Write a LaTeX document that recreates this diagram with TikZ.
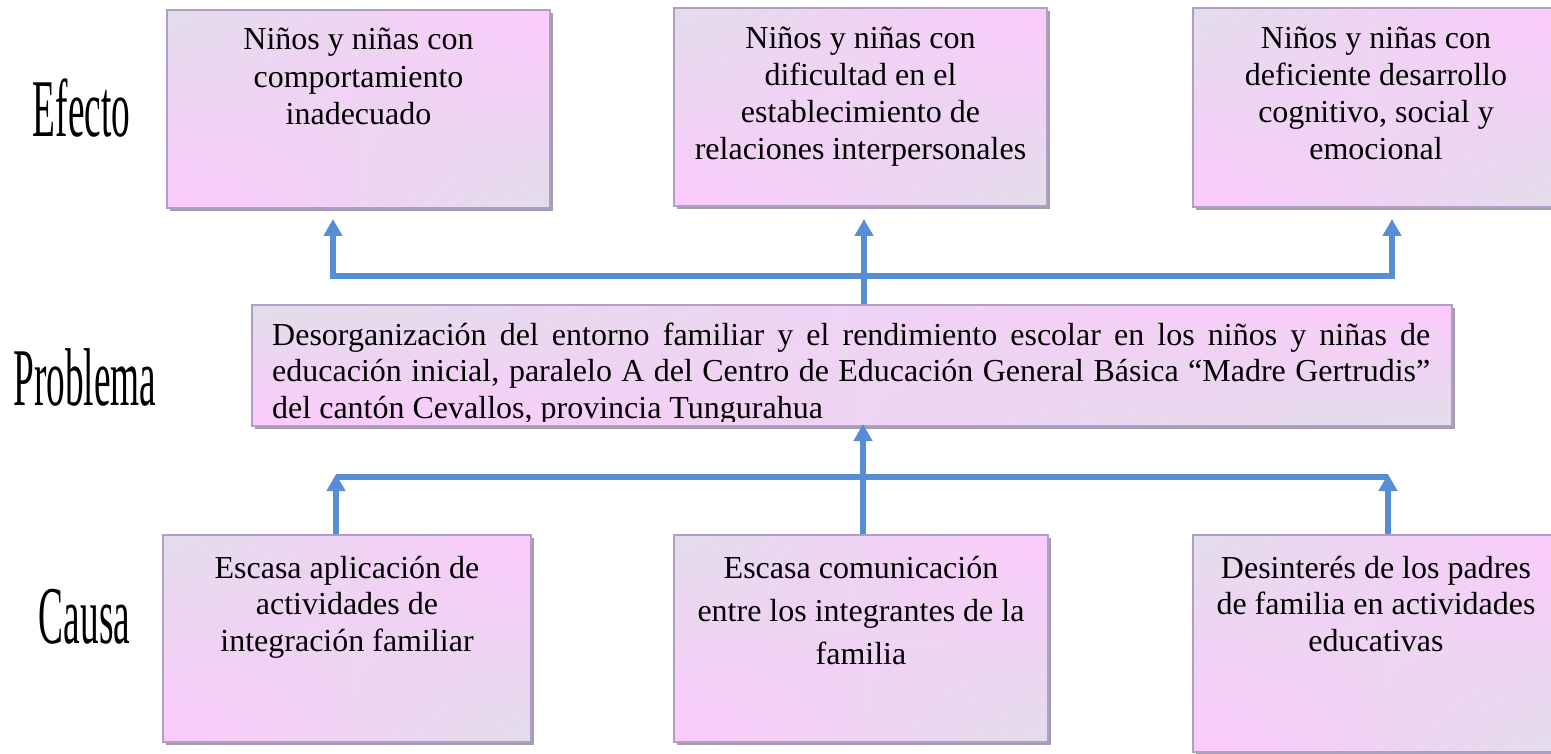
\documentclass[tikz,border=0pt]{standalone}
\usepackage{fontspec}
\setmainfont{Liberation Serif}
\usetikzlibrary{arrows.meta,shadows,shadings}
\definecolor{boxgray}{HTML}{E2DDEA}
\definecolor{boxpink}{HTML}{FCCAFC}
\definecolor{boxborder}{HTML}{AF9EC5}
\definecolor{boxshadow}{HTML}{A49DAF}
\definecolor{arrowblue}{HTML}{558ED5}
\begin{document}
\begin{tikzpicture}[x=1pt,y=-1pt,
  box/.style={draw=boxborder, line width=2pt, shade,
    upper left=boxgray, upper right=boxpink, lower left=boxpink, lower right=boxgray,
    general shadow={fill=boxshadow, shadow xshift=3pt, shadow yshift=-3pt},
    inner sep=0pt},
  txt/.style={anchor=base, inner sep=0pt},
  lbl/.style={anchor=base, inner sep=0pt, font=\fontsize{82}{90}\selectfont},
  conn/.style={draw=arrowblue, line width=5.5pt},
  btip/.tip={Triangle[length=17pt,width=18pt]}
]
\useasboundingbox (0,0) rectangle (1551,754);

% boxes
\node[box, minimum width=383pt, minimum height=198pt] (e1) at (358.5,109) {};
\node[box, minimum width=373pt, minimum height=198pt] (e2) at (860.5,107) {};
\node[box, minimum width=366pt, minimum height=199pt] (e3) at (1376,107.5) {};
\node[box, minimum width=1200pt, minimum height=121pt] (p) at (852,365.5) {};
\node[box, minimum width=368pt, minimum height=207pt] (c1) at (347,638.5) {};
\node[box, minimum width=374pt, minimum height=207pt] (c2) at (861,638.5) {};
\node[box, minimum width=366pt, minimum height=217pt] (c3) at (1376,643.5) {};

% box texts
\node[txt] (e1t) at (358.5,50) {\parbox[t]{380pt}{\centering\fontsize{32}{37.5}\selectfont Niños y niñas con\\comportamiento\\inadecuado\par}};
\node[txt] (e2t) at (860.5,49) {\parbox[t]{370pt}{\centering\fontsize{32}{37}\selectfont Niños y niñas con\\dificultad en el\\establecimiento de\\relaciones interpersonales\par}};
\node[txt] (e3t) at (1376,49) {\parbox[t]{360pt}{\centering\fontsize{32}{37}\selectfont Niños y niñas con\\deficiente desarrollo\\cognitivo, social y\\emocional\par}};
\node[txt] (c1t) at (347,578) {\parbox[t]{360pt}{\centering\fontsize{32}{36.5}\selectfont Escasa aplicación de\\actividades de\\integración familiar\par}};
\node[txt] (c2t) at (861,578) {\parbox[t]{370pt}{\centering\fontsize{32}{43}\selectfont Escasa comunicación\\entre los integrantes de la\\familia\par}};
\node[txt] (c3t) at (1376,578) {\parbox[t]{360pt}{\centering\fontsize{32}{36.5}\selectfont Desinterés de los padres\\de familia en actividades\\educativas\par}};

\begin{scope}
\clip (252,300) rectangle (1460,421);
\node[txt, anchor=base west] (pt) at (272,345) {\parbox[t]{1158pt}{\fontsize{32}{36.5}\selectfont\makebox[1158pt][s]{Desorganización del entorno familiar y el rendimiento escolar en los niños y niñas de}\\\makebox[1158pt][s]{educación inicial, paralelo A del Centro de Educación General Básica “Madre Gertrudis”}\\del cantón Cevallos, provincia Tungurahua\par}};
\end{scope}

% left labels
\node[lbl] (lef) at (81.5,137) {\scalebox{0.455}[1]{Efecto}};
\node[lbl] (lpr) at (85,405) {\scalebox{0.455}[1]{Problema}};
\node[lbl] (lca) at (84.5,643) {\scalebox{0.455}[1]{Causa}};

% connectors (top)
\coordinate (tj1) at (333,276);
\coordinate (tm) at (864,276);
\coordinate (tj3) at (1392,276);
\draw[conn, btip-btip, shorten <=10pt, shorten >=11pt] (tj1 |- e1.south) -- (tj1) -- (tj3) -- (tj3 |- e3.south);
\draw[conn, -btip, shorten >=12pt] (tm |- p.north) -- (tm |- e2.south);

% connectors (bottom)
\coordinate (bj1) at (336,477);
\coordinate (bm) at (863,477);
\coordinate (bj3) at (1388,477);
\draw[conn] (bj1) -- (bj3);
\draw[conn, -btip, shorten >=-3pt] (bj1 |- c1.north) -- (bj1);
\draw[conn, -btip, shorten >=-3pt] (bj3 |- c3.north) -- (bj3);
\draw[conn, -btip, shorten >=-3pt] (bm |- c2.north) -- (bm |- p.south);
\end{tikzpicture}
\end{document}
